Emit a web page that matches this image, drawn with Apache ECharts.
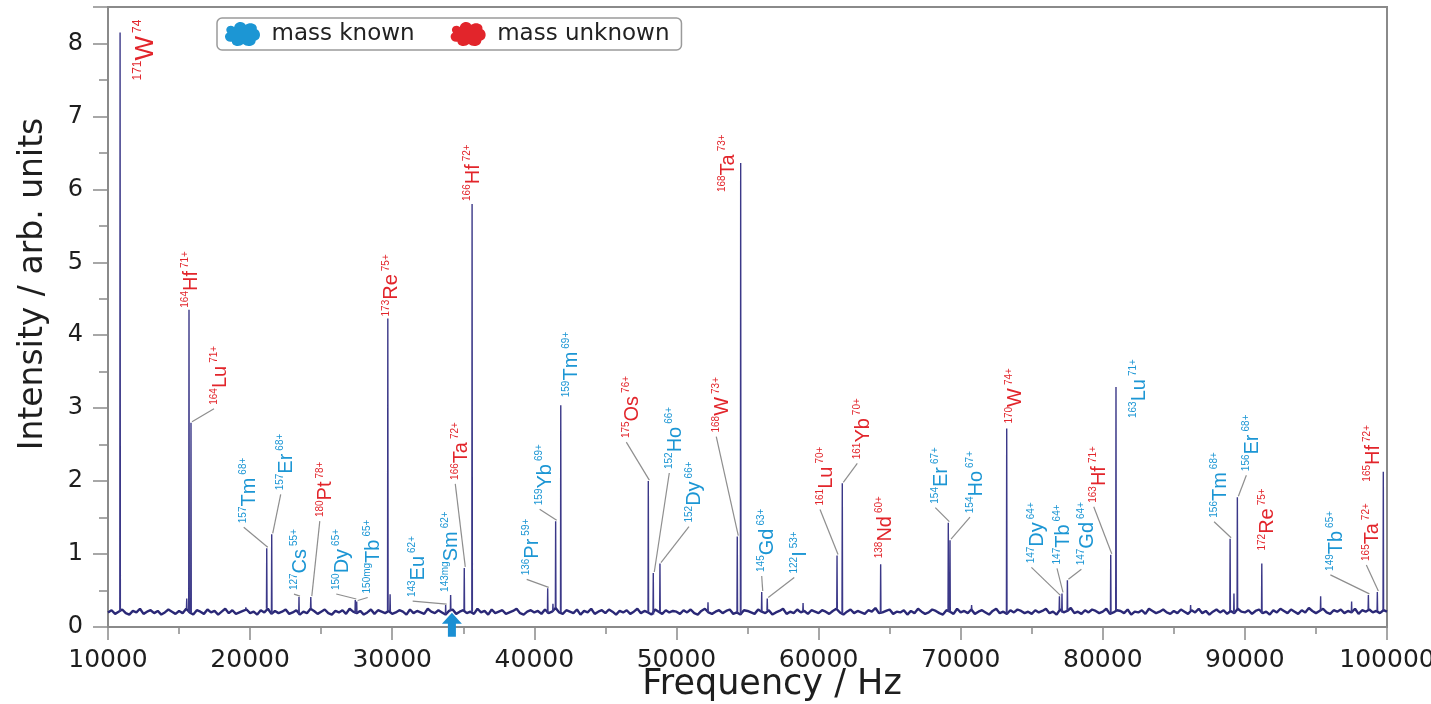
<!DOCTYPE html>
<html><head><meta charset="utf-8">
<script src="https://cdn.jsdelivr.net/npm/echarts@6/dist/echarts.min.js"></script>
<style>html,body{margin:0;padding:0;background:#fff}#c{width:1431px;height:704px}</style>
</head><body><div id="c"></div>
<script>
// ---------- DATA ----------
const baselineStart = 10000;
const baselineStep = 250;
const baseline = [
0.20,0.23,0.18,0.21,0.24,0.19,0.17,0.22,0.20,0.25,0.18,0.21,0.23,0.19,0.22,0.17,0.20,0.24,0.21,0.18,
0.22,0.19,0.25,0.20,0.17,0.23,0.21,0.18,0.24,0.20,0.22,0.17,0.21,0.25,0.19,0.23,0.18,0.20,0.22,0.24,
0.19,0.21,0.17,0.23,0.20,0.25,0.18,0.22,0.19,0.21,0.24,0.18,0.20,0.23,0.17,0.21,0.19,0.25,0.22,0.18,
0.21,0.24,0.19,0.17,0.22,0.20,0.23,0.18,0.25,0.21,0.19,0.22,0.17,0.20,0.24,0.18,0.23,0.21,0.19,0.22,
0.18,0.20,0.23,0.21,0.17,0.24,0.19,0.22,0.20,0.18,0.25,0.21,0.19,0.23,0.20,0.17,0.22,0.24,0.18,0.21,
0.23,0.19,0.21,0.18,0.25,0.20,0.22,0.17,0.24,0.19,0.21,0.23,0.18,0.20,0.22,0.25,0.19,0.17,0.21,0.23,
0.20,0.22,0.18,0.24,0.19,0.21,0.26,0.20,0.18,0.23,0.21,0.19,0.24,0.17,0.22,0.20,0.25,0.18,0.21,0.23,
0.19,0.24,0.21,0.17,0.22,0.20,0.23,0.18,0.21,0.25,0.19,0.22,0.20,0.17,0.24,0.21,0.18,0.23,0.20,0.22,
0.21,0.18,0.23,0.20,0.24,0.19,0.17,0.22,0.25,0.20,0.18,0.21,0.23,0.19,0.22,0.24,0.18,0.20,0.17,0.23,
0.22,0.20,0.18,0.24,0.21,0.19,0.23,0.17,0.20,0.22,0.25,0.18,0.21,0.19,0.24,0.20,0.22,0.18,0.23,0.21,
0.19,0.23,0.21,0.18,0.22,0.25,0.20,0.17,0.21,0.24,0.19,0.22,0.20,0.18,0.23,0.21,0.26,0.19,0.20,0.22,
0.24,0.18,0.21,0.20,0.23,0.17,0.22,0.19,0.25,0.21,0.18,0.20,0.24,0.22,0.19,0.17,0.23,0.21,0.18,0.25,
0.20,0.22,0.19,0.24,0.18,0.21,0.23,0.20,0.17,0.22,0.25,0.19,0.21,0.18,0.23,0.20,0.24,0.22,0.19,0.21,
0.18,0.23,0.20,0.22,0.25,0.19,0.21,0.17,0.24,0.20,0.22,0.26,0.19,0.21,0.18,0.23,0.20,0.24,0.22,0.19,
0.21,0.25,0.18,0.20,0.23,0.22,0.19,0.24,0.17,0.21,0.20,0.23,0.18,0.25,0.22,0.19,0.21,0.24,0.20,0.18,
0.22,0.19,0.24,0.21,0.18,0.23,0.20,0.25,0.19,0.22,0.17,0.21,0.24,0.20,0.23,0.18,0.22,0.19,0.25,0.21,
0.20,0.23,0.18,0.22,0.24,0.19,0.21,0.17,0.23,0.20,0.25,0.22,0.19,0.24,0.21,0.18,0.23,0.20,0.26,0.22,
0.19,0.22,0.25,0.20,0.18,0.23,0.21,0.24,0.19,0.22,0.20,0.25,0.18,0.23,0.21,0.24,0.20,0.22,0.19,0.23,
0.21
];

const peakFreq = [10850,15700,15840,21170,21520,23440,24270,27400,27500,29690,
  33760,34110,35070,35620,40940,41500,41860,48020,48370,48840,
  54280,54520,56000,56390,61300,61670,64370,69130,69250,73240,
  76950,77130,77510,80560,80930,88960,89470,91190,98690,99320,99740];
const peakHeight = [8.15,4.35,2.80,1.08,1.27,0.41,0.41,0.37,0.35,4.23,
  0.30,0.44,0.81,5.80,0.53,1.45,3.04,2.00,0.74,0.87,
  1.24,6.36,0.48,0.39,0.98,1.97,0.86,1.43,1.19,2.72,
  0.42,0.46,0.64,0.99,3.29,1.21,1.78,0.87,0.44,0.48,2.13];
const peakMass = ['171','164','164','157','157','127','180','150','150mg','173',
  '143','143mg','166','166','136','159','159','175','152','152',
  '168','168','145','122','161','161','138','154','154','170',
  '147','147','147','163','163','156','156','172','149','165','165'];
const peakElement = ['W','Hf','Lu','Tm','Er','Cs','Pt','Dy','Tb','Re',
  'Eu','Sm','Ta','Hf','Pr','Yb','Tm','Os','Ho','Dy',
  'W','Ta','Gd','I','Lu','Yb','Nd','Er','Ho','W',
  'Dy','Tb','Gd','Hf','Lu','Tm','Er','Re','Tb','Ta','Hf'];
const peakCharge = ['74','71+','71+','68+','68+','55+','78+','65+','65+','75+',
  '62+','62+','72+','72+','59+','69+','69+','76+','66+','66+',
  '73+','73+','63+','53+','70+','70+','60+','67+','67+','74+',
  '64+','64+','64+','71+','71+','68+','68+','75+','65+','72+','72+'];
const peakKnown = [0,0,0,1,1,1,0,1,1,0,
  1,1,0,0,1,1,1,0,1,1,
  0,0,1,1,0,0,0,1,1,0,
  1,1,1,0,1,1,1,0,1,0,0];

// small unlabeled peaks
const minorFreq = [15540,19700,29850,41310,52220,58910,70770,86180,89230,95330,97510];
const minorHeight = [0.39,0.27,0.45,0.32,0.34,0.33,0.30,0.30,0.46,0.42,0.35];

const arrowFreq = 34200;

// ---------- LAYOUT (label offsets in px from the peak top: dx, dy, leader, large) ----------
const labelLayout = [
 [26,48,0,1],[2,-2,0,0],[29,-18,1,0],[-17,-25,1,0],[15,-44,1,0],[1,-7,1,0],[15,-80,1,0],[-13,-10,1,0],[17,-8,1,0],[4,-2,0,0],
 [-27,-8,1,0],[1,-3,0,0],[-3,-88,1,0],[1,-3,0,0],[-15,-13,1,0],[-10,-16,1,0],[11,-8,0,0],[-16,-43,1,0],[22,-104,1,0],[35,-41,1,0],
 [-15,-104,1,0],[-12,29,0,0],[6,-20,1,0],[33,-25,1,0],[-11,-50,1,0],[21,-24,1,0],[5,-6,0,0],[-7,-19,1,0],[26,-27,1,0],[9,-5,0,0],
 [-22,-33,1,0],[1,-29,1,0],[20,-15,1,0],[-11,-52,1,0],[23,31,0,0],[-10,-21,1,0],[15,-26,1,0],[6,-13,0,0],[-32,-24,1,0],[-5,-31,1,0],[-10,10,0,0]
];

const BLUE = '#1c96d4', RED = '#e2252b', NAVY = '#2a2876', GRAYAX = '#8a8a8a';
const FONT = "'DejaVu Sans', sans-serif";
const LFONT = "'Liberation Sans', Arial, sans-serif";

// ---------- build spectrum ----------
function baseAt(f) {
  const idx = Math.max(0, Math.min(baseline.length - 1, Math.round((f - baselineStart) / baselineStep)));
  return baseline[idx];
}
const baseData = baseline.map((v, i) => [baselineStart + i * baselineStep, v]);
const spikeData = [];
const allF = peakFreq.concat(minorFreq), allH = peakHeight.concat(minorHeight);
allF.forEach((f, i) => {
  const b = baseAt(f);
  spikeData.push([f - 20, b], [f, allH[i]], [f + 20, b], [f + 21, null]);
});

function labelSeries(name, color, known) {
  const data = [];
  peakFreq.forEach((f, i) => { if (peakKnown[i] === known) data.push([f, peakHeight[i], i]); });
  return {
    name, type: 'custom', coordinateSystem: 'cartesian2d', clip: false, silent: true, z: 5,
    itemStyle: { color }, encode: { x: 0, y: 1 }, data,
    renderItem(params, api) {
      const i = api.value(2);
      const p = api.coord([api.value(0), api.value(1)]);
      const L = labelLayout[i];
      const ax = p[0] + L[0], ay = p[1] + L[1];
      const big = L[3] === 1;
      const sSize = big ? 26 : 20, small = big ? 12 : 10;
      const children = [];
      if (L[2]) {
        children.push({ type: 'line', shape: { x1: p[0] + 1, y1: p[1] - 1, x2: ax - 6, y2: ay + 4 },
          style: { stroke: '#8e8e8e', lineWidth: 1.2 } });
      }
      children.push({
        type: 'text', x: ax, y: ay, rotation: Math.PI / 2,
        style: {
          text: '{m|' + peakMass[i] + '}{s|' + peakElement[i] + '}{c|' + peakCharge[i] + '}',
          align: 'left', verticalAlign: 'middle',
          rich: {
            m: { fontSize: small, fontFamily: LFONT, fill: color, verticalAlign: 'top' },
            s: { fontSize: sSize, fontFamily: LFONT, fill: color, lineHeight: sSize + 2 },
            c: { fontSize: small, fontFamily: LFONT, fill: color, verticalAlign: 'top', padding: [0, 0, 0, 3] }
          }
        }
      });
      return { type: 'group', children };
    }
  };
}

const cloud = 'path://M10,5 C11,0 18,-1 20,3 C24,0 31,2 30,7 C34,9 34,16 29,17 C29,22 21,23 18,20 C15,23 8,22 8,18 C2,19 0,12 4,10 C1,6 6,2 10,5 Z';

const chart = echarts.init(document.getElementById('c'));
chart.setOption({
  animation: false,
  backgroundColor: '#fff',
  grid: { left: 108, right: 44, top: 7, bottom: 77, show: true, borderColor: GRAYAX, borderWidth: 2,
          containLabel: false, outerBoundsMode: 'none' },
  legend: {
    left: 217, top: 18, orient: 'horizontal',
    data: ['mass known', 'mass unknown'],
    icon: cloud, itemWidth: 38, itemHeight: 24, itemGap: 36,
    padding: [4, 12, 4, 8],
    borderColor: '#9a9a9a', borderWidth: 1.5, borderRadius: 5,
    textStyle: { fontFamily: FONT, fontSize: 23, color: '#222', padding: [0, 0, 0, 5] },
    selectedMode: false
  },
  xAxis: {
    type: 'value', min: 10000, max: 100000, interval: 10000,
    axisLine: { show: true, lineStyle: { color: GRAYAX, width: 2 } },
    axisTick: { show: true, length: 13, lineStyle: { color: GRAYAX, width: 1.5 } },
    minorTick: { show: true, splitNumber: 2, length: 7, lineStyle: { color: GRAYAX, width: 1.5 } },
    axisLabel: { fontFamily: FONT, fontSize: 25, color: '#1e1e1e', margin: 21, formatter: v => String(v) },
    splitLine: { show: false }
  },
  yAxis: {
    type: 'value', min: 0, max: 8.5, interval: 1,
    axisLine: { show: true, lineStyle: { color: GRAYAX, width: 2 } },
    axisTick: { show: true, length: 15, lineStyle: { color: GRAYAX, width: 1.5 } },
    minorTick: { show: true, splitNumber: 2, length: 9, lineStyle: { color: GRAYAX, width: 1.5 } },
    axisLabel: { fontFamily: FONT, fontSize: 24, color: '#1e1e1e', margin: 25, showMaxLabel: false },
    splitLine: { show: false }
  },
  graphic: [
    { type: 'text', x: 772, y: 685, style: { text: 'Frequency / Hz', font: "35px 'DejaVu Sans', sans-serif", fill: '#1e1e1e', align: 'center', verticalAlign: 'middle', textAlign: 'center', textVerticalAlign: 'middle' } },
    { type: 'text', x: 33, y: 284, rotation: Math.PI / 2, style: { text: 'Intensity / arb. units', font: "33px 'DejaVu Sans', sans-serif", fill: '#1e1e1e', align: 'center', verticalAlign: 'middle', textAlign: 'center', textVerticalAlign: 'middle' } }
  ],
  series: [
    {
      name: 'baseline', type: 'line', data: baseData, showSymbol: false, symbol: 'none', sampling: null,
      lineStyle: { color: NAVY, width: 2.4 }, z: 3, silent: true,
      markPoint: {
        silent: true,
        data: [{ coord: [arrowFreq, 0.03], symbol: 'path://M5,0 L10,5 L7,5 L7,11 L3,11 L3,5 L0,5 Z', symbolSize: [20, 24],
          itemStyle: { color: '#1b8fd3' }, label: { show: false } }]
      }
    },
    {
      name: 'peaks', type: 'line', data: spikeData, showSymbol: false, symbol: 'none', sampling: null,
      connectNulls: false, lineStyle: { color: '#3b3888', width: 1.4 }, z: 3, silent: true
    },
    labelSeries('mass known', BLUE, 1),
    labelSeries('mass unknown', RED, 0)
  ]
});
</script></body></html>
